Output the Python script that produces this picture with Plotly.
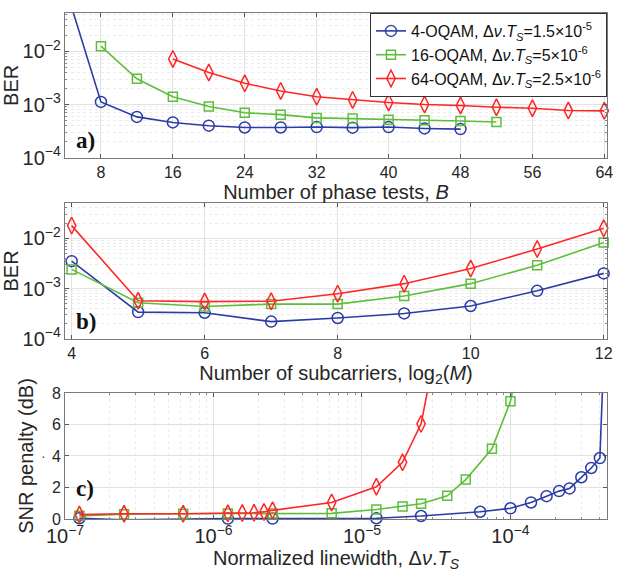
import math
import plotly.graph_objects as go

# ---------------- data ----------------
# Panel a: BER vs number of phase tests B
B_4qam = [4, 8, 12, 16, 20, 24, 28, 32, 36, 40, 44, 48]
ber_a_4qam = [0.17, 1.12e-3, 5.85e-4, 4.6e-4, 4.0e-4, 3.7e-4, 3.7e-4, 3.77e-4, 3.67e-4, 3.77e-4, 3.55e-4, 3.45e-4]
B_16qam = [8, 12, 16, 20, 24, 28, 32, 36, 40, 44, 48, 52]
ber_a_16qam = [1.25e-2, 3.05e-3, 1.4e-3, 9.2e-4, 7.0e-4, 6.45e-4, 5.6e-4, 5.45e-4, 5.15e-4, 5.06e-4, 4.9e-4, 4.7e-4]
B_64qam = [16, 20, 24, 28, 32, 36, 40, 44, 48, 52, 56, 60, 64]
ber_a_64qam = [7.2e-3, 4.0e-3, 2.5e-3, 1.8e-3, 1.4e-3, 1.22e-3, 1.09e-3, 1.0e-3, 9.6e-4, 8.9e-4, 8.5e-4, 7.7e-4, 7.6e-4]

# Panel b: BER vs log2(M)
log2M = [4, 5, 6, 7, 8, 9, 10, 11, 12]
ber_b_4qam = [3.5e-3, 3.4e-4, 3.3e-4, 2.2e-4, 2.6e-4, 3.2e-4, 4.5e-4, 9.0e-4, 2.0e-3]
ber_b_16qam = [2.4e-3, 5.2e-4, 4.4e-4, 4.9e-4, 4.9e-4, 7.1e-4, 1.25e-3, 2.9e-3, 8.2e-3]
ber_b_64qam = [1.78e-2, 5.7e-4, 5.5e-4, 5.6e-4, 7.9e-4, 1.25e-3, 2.5e-3, 6.1e-3, 1.57e-2]

# Panel c: SNR penalty vs normalized linewidth
lw_4qam = [1.25e-7, 2.5e-7, 1.25e-6, 2.5e-6, 1.25e-5, 2.5e-5, 6.25e-5, 1.0e-4, 1.375e-4,
           1.75e-4, 2.125e-4, 2.5e-4, 3.0e-4, 3.5e-4, 4.0e-4, 4.25e-4]
snr_4qam = [0.05, -0.05, 0.03, 0.03, 0.05, 0.19, 0.46, 0.68, 1.05, 1.45, 1.77, 1.94, 2.65, 3.24, 3.87, 10.5]
lw_16qam = [1.25e-7, 2.5e-7, 6.25e-7, 1.25e-6, 2.5e-6, 6.25e-6, 1.25e-5, 1.875e-5, 2.5e-5,
            3.75e-5, 5.0e-5, 7.5e-5, 1.0e-4, 1.25e-4]
snr_16qam = [0.2, 0.3, 0.33, 0.35, 0.35, 0.36, 0.6, 0.8, 0.97, 1.47, 2.5, 4.46, 7.47, 12.0]
lw_64qam = [1.25e-7, 2.5e-7, 6.25e-7, 1.25e-6, 1.5625e-6, 1.875e-6, 2.1875e-6, 2.5e-6,
            6.25e-6, 1.25e-5, 1.875e-5, 2.5e-5, 3.125e-5]
snr_64qam = [0.28, 0.33, 0.33, 0.36, 0.38, 0.4, 0.45, 0.55, 1.05, 2.05, 3.6, 6.04, 10.7]

names = ["4-OQAM, Δ<i>ν</i>.<i>T</i><sub><i>S</i></sub>=1.5×10<sup>-5</sup>",
         "16-OQAM, Δ<i>ν</i>.<i>T</i><sub><i>S</i></sub>=5×10<sup>-6</sup>",
         "64-OQAM, Δ<i>ν</i>.<i>T</i><sub><i>S</i></sub>=2.5×10<sup>-6</sup>"]
colors = ["#2B3CA6", "#5DBE3C", "#FF2626"]
symbols = ["circle-open", "square-open", "diamond-tall-open"]
msizes = [11, 9, 12]

# axis ranges
xa_range = [4, 64.3]
ya_range = [-4, -1.28]
xb_range = [3.9, 12.05]
yb_range = [-4, -1.3]
xc_range = [-7, -3.35]
yc_range = [0, 8]

FONT = "Liberation Sans, Arial, sans-serif"
TXT = "#262626"

fig = go.Figure()


def vis(ys, top, log=False):
    out = []
    for y in ys:
        v = math.log10(y) if log else y
        out.append(1 if v <= top else 0)
    return out


def add(x, y, i, xa, ya, top, log, legend):
    fig.add_trace(go.Scatter(
        x=x, y=y, mode="lines+markers", name=names[i], showlegend=legend,
        xaxis=xa, yaxis=ya, cliponaxis=False,
        line=dict(color=colors[i], width=1.6),
        marker=dict(symbol=symbols[i], size=msizes[i], color=colors[i],
                    opacity=vis(y, top, log), line=dict(width=1.5, color=colors[i])),
    ))


# panel a
add(B_4qam, ber_a_4qam, 0, "x", "y", ya_range[1], True, True)
add(B_16qam, ber_a_16qam, 1, "x", "y", ya_range[1], True, True)
add(B_64qam, ber_a_64qam, 2, "x", "y", ya_range[1], True, True)
# panel b
add(log2M, ber_b_4qam, 0, "x2", "y2", yb_range[1], True, False)
add(log2M, ber_b_16qam, 1, "x2", "y2", yb_range[1], True, False)
add(log2M, ber_b_64qam, 2, "x2", "y2", yb_range[1], True, False)
# panel c
add(lw_4qam, snr_4qam, 0, "x3", "y3", yc_range[1], False, False)
add(lw_16qam, snr_16qam, 1, "x3", "y3", yc_range[1], False, False)
add(lw_64qam, snr_64qam, 2, "x3", "y3", yc_range[1], False, False)

H = 575
T, Bm = 5, 56
ph = H - T - Bm


def dom(top_px, bot_px):
    return [(H - Bm - bot_px) / ph, (H - Bm - top_px) / ph]


common = dict(
    showline=True, linecolor="#7a7a7a", linewidth=1, mirror="ticks",
    ticks="inside", ticklen=4, tickcolor="#555",
    tickfont=dict(family=FONT, size=16, color=TXT),
    gridcolor="#e2e2e2", gridwidth=1, zeroline=False,
)
minor_log = dict(ticks="inside", ticklen=2, tickcolor="#888", showgrid=True,
                 gridcolor="#ececec", griddash="dot", gridwidth=1)
title_font = dict(family=FONT, size=20, color=TXT)

fig.update_layout(
    width=618, height=575,
    margin=dict(l=65, r=7, t=T, b=Bm),
    plot_bgcolor="white", paper_bgcolor="white",
    font=dict(family=FONT, color=TXT),
    showlegend=True,
    legend=dict(x=1, y=1, xanchor="right", yanchor="top", xref="paper", yref="paper",
                bgcolor="white", bordercolor="#333", borderwidth=1,
                font=dict(family=FONT, size=16, color="#111"),
                itemwidth=30, tracegroupgap=0),
    xaxis=dict(domain=[0, 1], anchor="y", range=xa_range, tickvals=[8, 16, 24, 32, 40, 48, 56, 64],
               title=dict(text="Number of phase tests, <i>B</i>", font=title_font, standoff=2),
               showgrid=True, **common),
    yaxis=dict(domain=dom(5, 152), anchor="x", type="log", range=ya_range, dtick=1,
               exponentformat="power",
               title=dict(text="BER", font=title_font, standoff=4),
               showgrid=True, minor=minor_log, **common),
    xaxis2=dict(domain=[0, 1], anchor="y2", range=xb_range, tickvals=[4, 6, 8, 10, 12],
                title=dict(text="Number of subcarriers, log<sub>2</sub>(<i>M</i>)", font=title_font, standoff=0),
                showgrid=True, **common),
    yaxis2=dict(domain=dom(198, 336), anchor="x2", type="log", range=yb_range, dtick=1,
                exponentformat="power",
                title=dict(text="BER", font=title_font, standoff=4),
                showgrid=True, minor=minor_log, **common),
    xaxis3=dict(domain=[0, 1], anchor="y3", type="log", range=xc_range, dtick=1,
                exponentformat="power",
                title=dict(text="Normalized linewidth, Δ<i>ν</i>.<i>T</i><sub><i>S</i></sub>", font=title_font, standoff=2),
                showgrid=True, minor=minor_log, **common),
    yaxis3=dict(domain=dom(391, 519), anchor="x3", range=yc_range, dtick=2,
                title=dict(text="SNR penalty (dB)", font=title_font, standoff=12),
                showgrid=True, **common),
)

lab_font = dict(family="Liberation Serif, Times New Roman, serif", size=23, color="#111")
for txt, xd, yd, yy in [("<b>a)</b>", "x domain", "y domain", 0.12),
                        ("<b>b)</b>", "x2 domain", "y2 domain", 0.13),
                        ("<b>c)</b>", "x3 domain", "y3 domain", 0.24)]:
    fig.add_annotation(text=txt, xref=xd, yref=yd, x=0.016, y=yy,
                       xanchor="left", yanchor="middle", showarrow=False, font=lab_font)

# small stray dot left of the "4" tick label in panel c (present in the original)
fig.add_annotation(text="·", xref="paper", yref="paper", x=(43 - 65) / (618 - 72),
                   y=(H - Bm - 455) / ph, xanchor="center", yanchor="middle",
                   showarrow=False, font=dict(family=FONT, size=14, color="#555"))

fig.write_html("out.html", config={"displayModeBar": False},
               post_script="document.body.style.margin='0px';")
